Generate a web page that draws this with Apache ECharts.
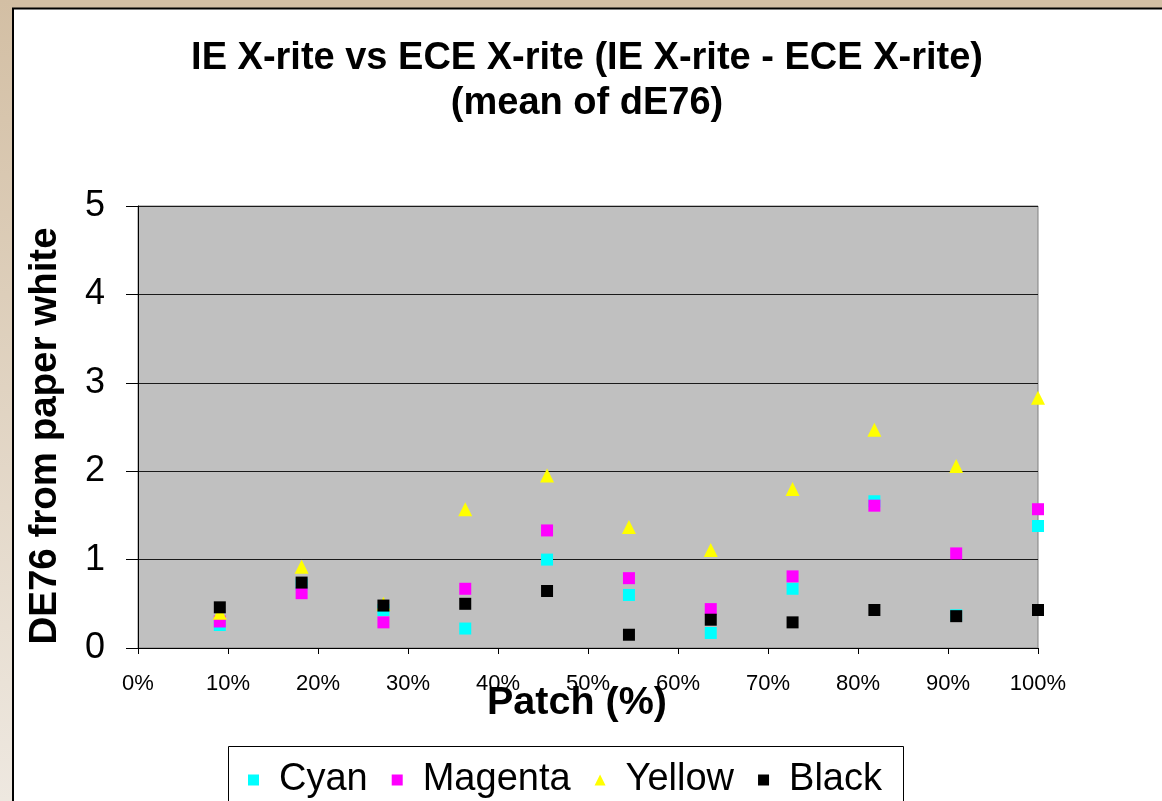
<!DOCTYPE html>
<html>
<head>
<meta charset="utf-8">
<script src="https://cdn.jsdelivr.net/npm/echarts@6/dist/echarts.min.js"></script>
<style>html,body{margin:0;padding:0;background:#fff}#c{width:1162px;height:801px}</style>
</head>
<body>
<div id="c"></div>
<script>
var patch = [9.09, 18.18, 27.27, 36.36, 45.45, 54.55, 63.64, 72.73, 81.82, 90.91, 100];
var cyan = [0.26, 0.72, 0.43, 0.22, 1.00, 0.60, 0.17, 0.67, 1.66, 0.37, 1.38];
var magenta = [0.30, 0.62, 0.29, 0.67, 1.33, 0.79, 0.44, 0.81, 1.61, 1.07, 1.57];
var yellow = [0.40, 0.92, 0.50, 1.57, 1.95, 1.37, 1.11, 1.80, 2.47, 2.06, 2.83];
var black = [0.46, 0.74, 0.48, 0.50, 0.645, 0.15, 0.32, 0.29, 0.43, 0.36, 0.43];
var seriesNames = ['Cyan', 'Magenta', 'Yellow', 'Black'];
var titleText = 'IE X-rite vs ECE X-rite (IE X-rite - ECE X-rite)\n(mean of dE76)';

function pts(v) { return patch.map(function (x, i) { return [x, v[i]]; }); }
var FONT = "'Liberation Sans', Arial, sans-serif";
var chart = echarts.init(document.getElementById('c'), null, {renderer: 'canvas'});
var option = {
  backgroundColor: '#ffffff',
  animation: false,
  textStyle: {fontFamily: FONT},
  title: {
    text: titleText,
    left: 582, top: 31, textAlign: 'center',
    textStyle: {fontFamily: FONT, fontSize: 38, fontWeight: 'bold', color: '#000', lineHeight: 45}
  },
  graphic: [
    {type: 'rect', shape: {x: 0, y: 0, width: 1162, height: 8}, style: {fill: '#d3bfa4'}, silent: true},
    {type: 'rect', shape: {x: 0, y: 0, width: 12, height: 801},
     style: {fill: new echarts.graphic.LinearGradient(0, 0, 0, 1, [{offset: 0, color: '#d3bfa4'}, {offset: 1, color: '#eee8e0'}])}, silent: true},
    {type: 'line', shape: {x1: 12, y1: 8.5, x2: 1162, y2: 8.5}, style: {stroke: '#000', lineWidth: 2}, silent: true},
    {type: 'line', shape: {x1: 13, y1: 8, x2: 13, y2: 801}, style: {stroke: '#000', lineWidth: 2}, silent: true},
    {type: 'rect', shape: {x: 228.5, y: 746.5, width: 675, height: 80}, style: {fill: 'none', stroke: '#000', lineWidth: 1}, silent: true}
  ],
  grid: {left: 138, top: 206, right: 124, bottom: 153, show: true, backgroundColor: '#c0c0c0', borderColor: '#808080', borderWidth: 1},
  legend: {
    left: 243, top: 756,
    itemWidth: 11, itemHeight: 11, itemGap: 24,
    textStyle: {fontFamily: FONT, fontSize: 38, color: '#000', padding: [0, 0, 0, 15]},
    data: [
      {name: 'Cyan', icon: 'rect'},
      {name: 'Magenta', icon: 'rect'},
      {name: 'Yellow', icon: 'triangle'},
      {name: 'Black', icon: 'rect'}
    ]
  },
  xAxis: {
    type: 'value', min: 0, max: 100, interval: 10,
    name: 'Patch (%)', nameLocation: 'middle', nameGap: 35, nameMoveOverlap: false,
    nameTextStyle: {fontFamily: FONT, fontSize: 39.5, fontWeight: 'bold', color: '#000', padding: [0, 22, 0, 0]},
    axisLine: {show: true, lineStyle: {color: '#000', width: 1}},
    axisTick: {show: true, length: 6, lineStyle: {color: '#000'}},
    axisLabel: {formatter: '{value}%', fontSize: 22, color: '#000', margin: 25, fontFamily: FONT},
    splitLine: {show: false}
  },
  yAxis: {
    type: 'value', min: 0, max: 5, interval: 1,
    name: 'DE76 from paper white', nameLocation: 'middle', nameGap: 73, nameMoveOverlap: false,
    nameTextStyle: {fontFamily: FONT, fontSize: 38.5, fontWeight: 'bold', color: '#000', padding: [0, 18, 0, 0]},
    axisLine: {show: true, lineStyle: {color: '#000', width: 1}},
    axisTick: {show: true, length: 12, lineStyle: {color: '#000'}},
    axisLabel: {fontSize: 36, color: '#000', margin: 33, fontFamily: FONT},
    splitLine: {show: true, lineStyle: {color: '#1a1a1a', width: 1}}
  },
  series: [
    {name: 'Cyan', type: 'scatter', symbol: 'rect', symbolSize: 12, itemStyle: {color: '#00ffff', opacity: 1}, data: pts(cyan)},
    {name: 'Magenta', type: 'scatter', symbol: 'rect', symbolSize: 12, itemStyle: {color: '#ff00ff', opacity: 1}, data: pts(magenta)},
    {name: 'Yellow', type: 'scatter', symbol: 'triangle', symbolSize: [14, 14], itemStyle: {color: '#ffff00', opacity: 1}, data: pts(yellow)},
    {name: 'Black', type: 'scatter', symbol: 'rect', symbolSize: 12, itemStyle: {color: '#000000', opacity: 1}, data: pts(black)}
  ]
};
chart.setOption(option);
</script>
</body>
</html>
